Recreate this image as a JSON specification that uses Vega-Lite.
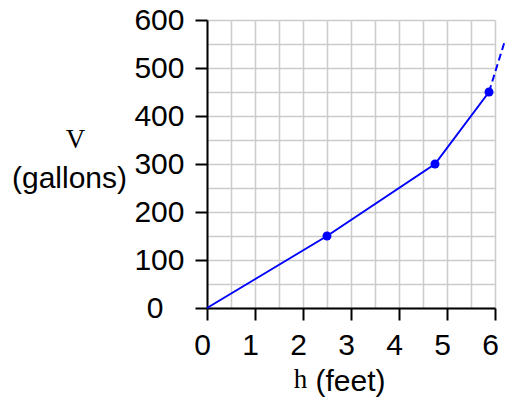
{
  "$schema": "https://vega.github.io/schema/vega-lite/v6.json",
  "width": 288,
  "height": 288,
  "autosize": {"type": "none"},
  "padding": {"left": 207, "top": 20, "right": 10, "bottom": 92},
  "background": "white",
  "config": {
    "view": {"stroke": null},
    "axis": {
      "titleFontWeight": "normal",
      "titleColor": "black",
      "labelColor": "black",
      "domainColor": "black",
      "tickColor": "black"
    }
  },
  "datasets": {
    "solid": [
      {"h": 0, "V": 0},
      {"h": 2.5, "V": 150},
      {"h": 4.75, "V": 300},
      {"h": 5.875, "V": 450}
    ],
    "dashed": [
      {"h": 5.875, "V": 450},
      {"h": 6.21, "V": 558}
    ]
  },
  "layer": [
    {
      "data": {"name": "solid"},
      "mark": {"type": "line", "color": "#0000ff", "strokeWidth": 2},
      "encoding": {
        "x": {
          "field": "h", "type": "quantitative",
          "scale": {"domain": [0, 6], "nice": false, "zero": false},
          "axis": {
            "orient": "bottom",
            "title": "(feet)",
            "values": [0, 0.5, 1, 1.5, 2, 2.5, 3, 3.5, 4, 4.5, 5, 5.5, 6],
            "labelExpr": "datum.value % 1 == 0 ? format(datum.value, 'd') : ''",
            "tickOpacity": {"condition": {"test": "datum.value % 1 != 0", "value": 0}, "value": 1},
            "tickSize": 12,
            "tickWidth": 2,
            "domainWidth": 2,
            "grid": true,
            "gridColor": "#cccccc",
            "gridWidth": 1.5,
            "labelFont": "Liberation Sans",
            "labelFontSize": 30,
            "labelPadding": 10,
            "labelOffset": -5,
            "labelFlush": false,
            "labelOverlap": false,
            "labelBound": false,
            "titleFont": "Liberation Sans",
            "titleFontSize": 30,
            "titleX": 143,
            "titleY": 73.5,
            "titleAlign": "center",
            "titleBaseline": "middle"
          }
        },
        "y": {
          "field": "V", "type": "quantitative",
          "scale": {"domain": [0, 600], "nice": false},
          "axis": {
            "orient": "left",
            "title": "(gallons)",
            "values": [0, 50, 100, 150, 200, 250, 300, 350, 400, 450, 500, 550, 600],
            "labelExpr": "datum.value % 100 == 0 ? datum.label : ''",
            "tickOpacity": {"condition": {"test": "datum.value % 100 != 0", "value": 0}, "value": 1},
            "tickSize": 12,
            "tickWidth": 2,
            "domainWidth": 2,
            "grid": true,
            "gridColor": "#cccccc",
            "gridWidth": 1.5,
            "labelFont": "Liberation Sans",
            "labelFontSize": 30,
            "labelPadding": {"condition": {"test": "datum.value == 0", "value": 32}, "value": 11},
            "labelFlush": false,
            "labelOverlap": false,
            "labelBound": false,
            "titleFont": "Liberation Sans",
            "titleFontSize": 30,
            "titleAngle": 0,
            "titleX": -138,
            "titleY": 158.5,
            "titleAlign": "center",
            "titleBaseline": "middle"
          }
        }
      }
    },
    {
      "data": {"name": "solid"},
      "transform": [{"filter": "datum.h > 0"}],
      "mark": {"type": "point", "filled": true, "color": "#0000ff", "size": 80, "opacity": 1, "strokeWidth": 0},
      "encoding": {
        "x": {"field": "h", "type": "quantitative", "scale": {"domain": [0, 6], "nice": false, "zero": false}, "axis": null},
        "y": {"field": "V", "type": "quantitative", "scale": {"domain": [0, 600], "nice": false}, "axis": null}
      }
    },
    {
      "data": {"name": "dashed"},
      "mark": {"type": "line", "color": "#0000ff", "strokeWidth": 2, "strokeDash": [7, 4], "clip": false},
      "encoding": {
        "x": {
          "field": "h", "type": "quantitative",
          "scale": {"domain": [0, 6], "nice": false, "zero": false},
          "axis": {
            "orient": "bottom",
            "title": "h",
            "domain": false, "ticks": false, "labels": false, "grid": false,
            "titleFont": "Liberation Serif",
            "titleFontSize": 27,
            "titleX": 93,
            "titleY": 71,
            "titleAlign": "center",
            "titleBaseline": "middle"
          }
        },
        "y": {
          "field": "V", "type": "quantitative",
          "scale": {"domain": [0, 600], "nice": false},
          "axis": {
            "orient": "left",
            "title": "V",
            "domain": false, "ticks": false, "labels": false, "grid": false,
            "titleFont": "Liberation Serif",
            "titleFontSize": 27,
            "titleAngle": 0,
            "titleX": -132,
            "titleY": 119,
            "titleAlign": "center",
            "titleBaseline": "middle"
          }
        }
      }
    }
  ],
  "resolve": {"axis": {"x": "independent", "y": "independent"}}
}
